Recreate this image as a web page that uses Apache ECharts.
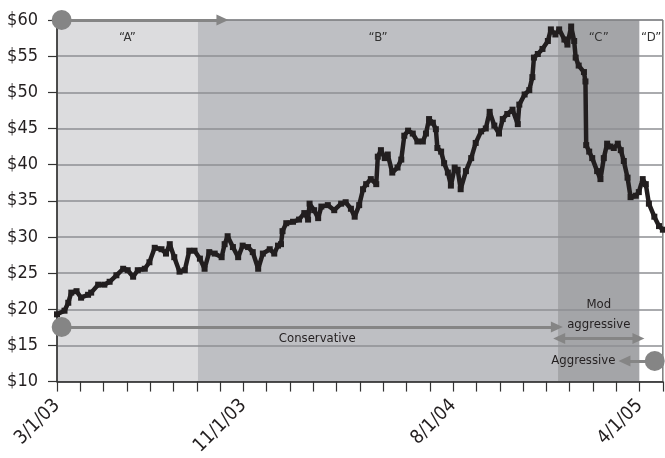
<!DOCTYPE html>
<html>
<head>
<meta charset="utf-8">
<script src="https://cdn.jsdelivr.net/npm/echarts@6/dist/echarts.min.js"></script>
<style>
  html, body { margin: 0; padding: 0; background: #fff; }
  #main { width: 665px; height: 458px; }
</style>
</head>
<body>
<div id="main"></div>
<script>
// price history
var dates = [
  '2003-03-01','2003-03-11','2003-03-16','2003-03-20','2003-03-27','2003-04-02','2003-04-11','2003-04-15','2003-04-24',
  '2003-05-02','2003-05-09','2003-05-18','2003-05-27','2003-06-02','2003-06-09','2003-06-15','2003-06-24','2003-06-30',
  '2003-07-07','2003-07-16','2003-07-22','2003-07-27','2003-08-02','2003-08-09','2003-08-16','2003-08-22','2003-08-29',
  '2003-09-05','2003-09-11','2003-09-17','2003-09-24','2003-10-03','2003-10-07','2003-10-11','2003-10-18','2003-10-25',
  '2003-10-31','2003-11-07','2003-11-13','2003-11-20','2003-11-26','2003-12-05','2003-12-11','2003-12-16','2003-12-20',
  '2003-12-22','2003-12-27','2004-01-05','2004-01-13','2004-01-20','2004-01-25','2004-01-27','2004-02-02','2004-02-07',
  '2004-02-11','2004-02-19','2004-02-27','2004-03-07','2004-03-13','2004-03-20','2004-03-25','2004-03-31','2004-04-05',
  '2004-04-09','2004-04-15','2004-04-22','2004-04-24','2004-04-28','2004-05-03','2004-05-07','2004-05-13','2004-05-20',
  '2004-05-25','2004-05-29','2004-06-03','2004-06-09','2004-06-15','2004-06-22','2004-06-26','2004-06-30','2004-07-05',
  '2004-07-09','2004-07-11','2004-07-16','2004-07-20','2004-07-25','2004-07-29','2004-08-03','2004-08-07','2004-08-11',
  '2004-08-18','2004-08-25','2004-08-31','2004-09-07','2004-09-13','2004-09-18','2004-09-24','2004-09-30','2004-10-05',
  '2004-10-11','2004-10-18','2004-10-25','2004-10-27','2004-11-03','2004-11-09','2004-11-13','2004-11-15','2004-11-20',
  '2004-11-26','2004-12-03','2004-12-07','2004-12-13','2004-12-18','2004-12-25','2004-12-29','2005-01-03','2005-01-07',
  '2005-01-09','2005-01-13','2005-01-20','2005-01-22','2005-01-23','2005-01-27','2005-01-31','2005-02-06','2005-02-10',
  '2005-02-14','2005-02-18','2005-02-22','2005-02-26','2005-03-03','2005-03-07','2005-03-11','2005-03-16','2005-03-20',
  '2005-03-27','2005-03-31','2005-04-05','2005-04-09','2005-04-13','2005-04-20','2005-04-26','2005-05-01'
];
var prices = [
  19.3,19.8,20.9,22.3,22.5,21.6,22.0,22.3,23.4,
  23.4,23.8,24.7,25.6,25.4,24.5,25.4,25.6,26.5,
  28.5,28.3,27.7,29.0,27.2,25.2,25.4,28.1,28.1,
  27.0,25.6,27.9,27.7,27.2,29.0,30.1,28.6,27.2,
  28.8,28.6,27.9,25.6,27.7,28.3,27.7,28.8,29.0,
  30.8,31.9,32.1,32.4,33.3,32.4,34.6,33.7,32.6,
  34.2,34.4,33.7,34.6,34.8,33.9,32.8,34.4,36.6,
  37.3,38.0,37.3,41.1,42.0,40.9,41.4,38.9,39.6,
  40.7,44.0,44.7,44.3,43.2,43.2,44.3,46.3,45.8,
  44.9,42.3,41.8,40.2,38.9,37.1,39.6,39.3,36.6,
  39.1,40.9,43.0,44.6,45.0,47.3,45.4,44.3,46.3,
  47.0,47.6,45.6,48.3,49.7,50.3,52.1,54.8,55.3,
  56.0,57.1,58.7,58.0,58.7,57.3,56.6,59.1,57.1,
  54.8,53.7,52.8,51.5,42.7,41.8,40.9,39.1,38.0,
  40.9,42.9,42.5,42.3,42.9,42.0,40.5,38.2,35.5,
  35.7,36.2,38.0,37.3,34.6,32.8,31.5,31.0
];

// shaded phases (months since 3/1/03)
var phaseNames = ['\u201cA\u201d', '\u201cB\u201d', '\u201cC\u201d', '\u201cD\u201d'];
var phaseStart = [0, 6.05, 21.5, 25.0];
var phaseEnd   = [6.05, 21.5, 25.0, 26];
var phaseColors = ['#dcdcde', '#bebfc3', '#a4a5a8', '#ffffff'];

var xLabels = {0: '3/1/03', 8: '11/1/03', 17: '8/1/04', 25: '4/1/05'};

var FONT = "'DejaVu Sans Condensed', 'Liberation Sans Narrow', sans-serif";
var TXT = '#231f20';
var ARROW = '#858585';

// fractional months after March 2003
function monthPos(s) {
  var p = s.split('-').map(Number);
  var dim = new Date(p[0], p[1], 0).getDate();
  return (p[0] - 2003) * 12 + (p[1] - 3) + (p[2] - 1) / dim;
}

var lineData = [];
for (var i = 0; i < dates.length; i++) {
  lineData.push([monthPos(dates[i]), prices[i]]);
}

var areas = [];
for (var j = 0; j < phaseNames.length; j++) {
  areas.push([
    { xAxis: phaseStart[j], name: phaseNames[j], itemStyle: { color: phaseColors[j] } },
    { xAxis: phaseEnd[j] }
  ]);
}

var note = { fontSize: 13, fontFamily: FONT, color: TXT };

var chart = echarts.init(document.getElementById('main'));

var option = {
  animation: false,
  textStyle: { fontFamily: FONT },
  grid: {
    left: 57, right: 2, top: 20, bottom: 67,
    show: true,
    backgroundColor: 'transparent',
    borderColor: '#3a3a3a',
    borderWidth: 1
  },
  xAxis: {
    type: 'value',
    min: 0, max: 26, interval: 1,
    axisLine: { lineStyle: { color: '#333', width: 1.5 } },
    axisTick: { show: true, inside: false, length: 10, lineStyle: { color: '#333', width: 1.2 } },
    splitLine: { show: false },
    axisLabel: {
      rotate: 45,
      margin: 21,
      fontSize: 19,
      fontFamily: FONT,
      color: TXT,
      formatter: function (v) { return xLabels[v] || ''; }
    }
  },
  yAxis: {
    type: 'value',
    min: 10, max: 60, interval: 5,
    axisLine: { show: true, lineStyle: { color: '#333', width: 1.5 } },
    axisTick: { show: true, inside: false, length: 9, lineStyle: { color: '#333', width: 1.2 } },
    splitLine: { show: true, lineStyle: { color: '#8e8f93', width: 1.5 } },
    axisLabel: {
      margin: 19,
      fontSize: 18,
      fontFamily: FONT,
      color: TXT,
      formatter: function (v) { return '$' + v; }
    }
  },
  series: [
    {
      // background phases
      type: 'line',
      data: [],
      z: -1,
      markArea: {
        z: -1,
        silent: true,
        label: {
          show: true,
          position: 'insideTop',
          distance: 11,
          fontSize: 13,
          fontFamily: FONT,
          color: '#333'
        },
        data: areas
      }
    },
    {
      name: 'price',
      type: 'line',
      data: lineData,
      symbol: 'rect',
      symbolSize: 6,
      showAllSymbol: true,
      lineStyle: { color: '#221e1f', width: 4.5 },
      itemStyle: { color: '#221e1f' },
      z: 3
    },
    {
      // arrows and notes
      type: 'line',
      data: [],
      clip: false,
      z: 4,
      markLine: {
        silent: true,
        animation: false,
        symbol: ['none', 'none'],
        lineStyle: { color: ARROW, width: 3, type: 'solid' },
        label: { show: false },
        data: [
          [
            { coord: [0.2, 60], symbol: 'circle', symbolSize: 20 },
            { coord: [7.1, 60], symbol: 'triangle', symbolSize: [11, 12] }
          ],
          [
            { coord: [0.2, 17.55], symbol: 'circle', symbolSize: 20 },
            {
              coord: [21.45, 17.55], symbol: 'triangle', symbolSize: [11, 12],
              label: Object.assign({
                show: true, position: 'insideMiddleBottom', distance: 5,
                offset: [8, 0], formatter: 'Conservative'
              }, note)
            }
          ],
          [
            { coord: [21.55, 15.95], symbol: 'triangle', symbolSize: [11, 12] },
            {
              coord: [24.95, 15.95], symbol: 'triangle', symbolSize: [11, 12],
              label: Object.assign({
                show: true, position: 'insideMiddleTop', distance: 4,
                formatter: 'Mod\naggressive', lineHeight: 20
              }, note)
            }
          ],
          [
            { coord: [25.65, 12.85], symbol: 'circle', symbolSize: 20 },
            {
              coord: [24.35, 12.85], symbol: 'triangle', symbolSize: [11, 12],
              label: Object.assign({
                show: true, position: 'end', distance: 9,
                formatter: 'Aggressive'
              }, note)
            }
          ]
        ]
      }
    }
  ]
};

chart.setOption(option);
</script>
</body>
</html>
